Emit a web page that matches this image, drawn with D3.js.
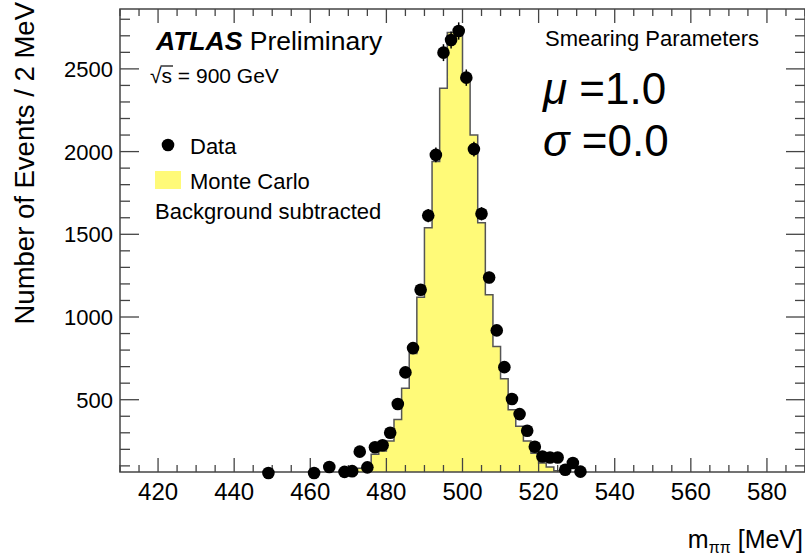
<!DOCTYPE html>
<html>
<head>
    <style>
        body { margin: 0; background: #fff; }
        svg { display: block; font-family: "Liberation Sans", Arial, sans-serif; }
        .frame { fill: none; stroke: #444; stroke-width: 1.5px; }
        .tick { stroke: #444; stroke-width: 1.3px; }
        .err { stroke: #000; stroke-width: 1.5px; }
    </style>
</head>
<body>
<div id="chart"></div>
<script src="https://d3js.org/d3.v7.min.js"></script>
<script>
// data points (bin centres, MeV) and counts
var dataMass   = [449, 461, 465, 469, 471, 473, 475, 477, 479, 481, 483, 485, 487, 489, 491, 493, 495, 497, 499,
                  501, 503, 505, 507, 509, 511, 513, 515, 517, 519, 521, 523, 525, 527, 529, 531];
var dataCounts = [57, 57, 93, 64, 68, 186, 91, 213, 225, 300, 474, 665, 812, 1165, 1613, 1980, 2598, 2675, 2729,
                  2447, 2015, 1624, 1239, 919, 697, 504, 413, 312, 216, 157, 151, 151, 77, 117, 65];

// Monte Carlo histogram, 2 MeV bins, low edges
var mcLowEdge = [468, 470, 472, 474, 476, 478, 480, 482, 484, 486, 488, 490, 492, 494, 496, 498,
                 500, 502, 504, 506, 508, 510, 512, 514, 516, 518, 520, 522, 524, 526];
var mcCounts  = [60, 70, 85, 107, 170, 190, 250, 380, 570, 780, 1120, 1540, 1940, 2383, 2720, 2750,
                 2450, 2100, 1570, 1134, 822, 627, 440, 339, 250, 176, 117, 93, 70, 60];
var binWidth = 2;

var xTicks = [420, 440, 460, 480, 500, 520, 540, 560, 580];
var yTicks = [500, 1000, 1500, 2000, 2500];

var W = 805, H = 555;
var pL = 120, pR = 805, pT = 9, pB = 472;
var mcFill = "#fffa78";

var svg = d3.select("#chart").append("svg")
    .attr("width", W)
    .attr("height", H);

var x = d3.scaleLinear().domain([410, 590]).range([pL, pR]);
var y = d3.scaleLinear().domain([63, 2862]).range([pB, pT]);

svg.append("clipPath").attr("id", "plotclip")
  .append("rect").attr("x", pL).attr("y", pT).attr("width", pR - pL).attr("height", pB - pT);

// MC histogram as a step area
var steps = [];
mcLowEdge.forEach(function(e, i) {
    steps.push([e, mcCounts[i]]);
    steps.push([e + binWidth, mcCounts[i]]);
});
var area = d3.area()
    .x(function(d) { return x(d[0]); })
    .y0(y(0))
    .y1(function(d) { return y(d[1]); });
var line = d3.line()
    .x(function(d) { return x(d[0]); })
    .y(function(d) { return y(d[1]); });
var first = mcLowEdge[0], last = mcLowEdge[mcLowEdge.length - 1] + binWidth;
var outline = [[first, 0]].concat(steps).concat([[last, 0]]);

var hg = svg.append("g").attr("clip-path", "url(#plotclip)");
hg.append("path").attr("d", area(steps)).attr("fill", mcFill);
hg.append("path").attr("d", line(outline)).attr("fill", "none").attr("stroke", "#555").attr("stroke-width", 1.5);

// frame and ticks
svg.append("rect").attr("class", "frame")
    .attr("x", pL).attr("y", pT).attr("width", pR - pL).attr("height", pB - pT);

d3.range(410, 591, 5).forEach(function(v) {
    var len = v % 20 === 0 ? 14 : 7;
    svg.append("line").attr("class", "tick")
        .attr("x1", x(v)).attr("x2", x(v)).attr("y1", pB).attr("y2", pB - len);
    svg.append("line").attr("class", "tick")
        .attr("x1", x(v)).attr("x2", x(v)).attr("y1", pT).attr("y2", pT + len);
});
d3.range(100, 2900, 100).forEach(function(v) {
    if (y(v) < pT || y(v) > pB) return;
    var len = v % 500 === 0 ? 19 : 10;
    svg.append("line").attr("class", "tick")
        .attr("x1", pL).attr("x2", pL + len).attr("y1", y(v)).attr("y2", y(v));
    svg.append("line").attr("class", "tick")
        .attr("x1", pR).attr("x2", pR - len).attr("y1", y(v)).attr("y2", y(v));
});

svg.selectAll(".xlab").data(xTicks).enter().append("text")
    .attr("class", "xlab")
    .attr("x", function(d) { return x(d); })
    .attr("y", 500)
    .attr("text-anchor", "middle")
    .attr("font-size", 24)
    .text(function(d) { return d; });

svg.selectAll(".ylab").data(yTicks).enter().append("text")
    .attr("class", "ylab")
    .attr("x", 113)
    .attr("y", function(d) { return y(d) + 8; })
    .attr("text-anchor", "end")
    .attr("font-size", 22)
    .text(function(d) { return d; });

// axis titles
svg.append("text")
    .attr("transform", "translate(34,2) rotate(-90)")
    .attr("text-anchor", "end")
    .attr("font-size", 27.5)
    .text("Number of Events / 2 MeV");

var xt = svg.append("text")
    .attr("x", 803).attr("y", 548)
    .attr("text-anchor", "end")
    .attr("font-size", 25);
xt.append("tspan").text("m");
xt.append("tspan").attr("font-size", 16).attr("dy", 5).text("ππ");
xt.append("tspan").attr("dy", -5).text(" [MeV]");

// data points with errors
var dg = svg.append("g");
dg.selectAll("line").data(dataMass).enter().append("line")
    .attr("class", "err")
    .attr("x1", function(d) { return x(d); })
    .attr("x2", function(d) { return x(d); })
    .attr("y1", function(d, i) { return y(dataCounts[i] + Math.sqrt(dataCounts[i])); })
    .attr("y2", function(d, i) { return y(dataCounts[i] - Math.sqrt(dataCounts[i])); });
dg.selectAll("circle").data(dataMass).enter().append("circle")
    .attr("cx", function(d) { return x(d); })
    .attr("cy", function(d, i) { return y(dataCounts[i]); })
    .attr("r", 6.3)
    .attr("fill", "#000");

// labels
var atl = svg.append("text").attr("x", 156).attr("y", 50).attr("font-size", 26.5);
atl.append("tspan").attr("font-weight", "bold").attr("font-style", "italic").text("ATLAS");
atl.append("tspan").text(" Preliminary");

var rs = svg.append("text").attr("x", 150).attr("y", 83).attr("font-size", 21);
rs.append("tspan").text("√");
rs.append("tspan").text("s = 900 GeV");
var sqW = rs.node().getSubStringLength(0, 1);
var sW = rs.node().getSubStringLength(1, 1);
svg.append("line")
    .attr("x1", 150 + sqW - 1).attr("x2", 150 + sqW + sW + 1)
    .attr("y1", 66).attr("y2", 66)
    .attr("stroke", "#000").attr("stroke-width", 1.2);

svg.append("circle").attr("cx", 168).attr("cy", 145).attr("r", 6.3).attr("fill", "#000");
svg.append("text").attr("x", 190).attr("y", 154).attr("font-size", 22).text("Data");
svg.append("rect").attr("x", 155).attr("y", 171).attr("width", 26).attr("height", 18).attr("fill", mcFill);
svg.append("text").attr("x", 190).attr("y", 189).attr("font-size", 22).text("Monte Carlo");
svg.append("text").attr("x", 155).attr("y", 219).attr("font-size", 22).text("Background subtracted");

svg.append("text").attr("x", 545).attr("y", 46).attr("font-size", 22).text("Smearing Parameters");
var mu = svg.append("text").attr("x", 543).attr("y", 104).attr("font-size", 44);
mu.append("tspan").attr("font-style", "italic").text("μ");
mu.append("tspan").text(" =1.0");
var sg = svg.append("text").attr("x", 543).attr("y", 156).attr("font-size", 44);
sg.append("tspan").attr("font-style", "italic").text("σ");
sg.append("tspan").text(" =0.0");
</script>
</body>
</html>
